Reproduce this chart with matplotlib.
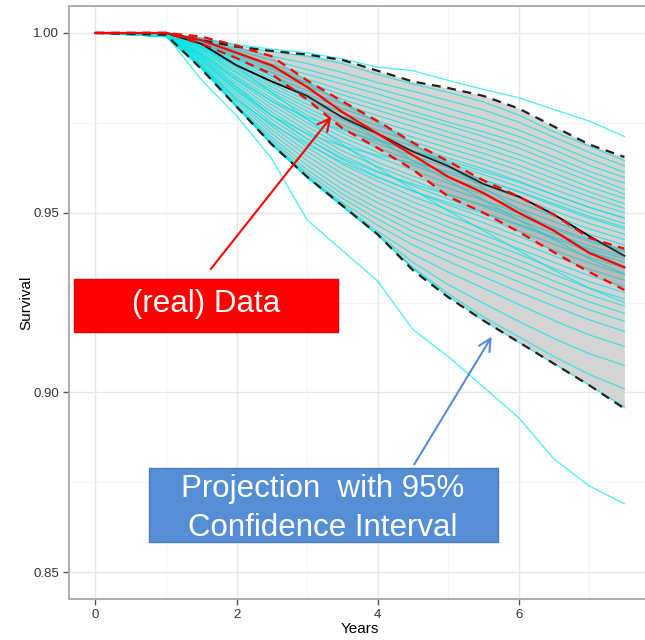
import matplotlib
matplotlib.use("Agg")
import matplotlib.pyplot as plt
from matplotlib.patches import Rectangle

plt.rcParams['font.family'] = ['Liberation Sans', 'DejaVu Sans']

# -------------------------------
# DATA
# -------------------------------
years = [0, 1.0, 1.5, 2.0, 2.5, 3.0, 3.5, 4.0, 4.5, 5.0, 5.5, 6.0, 6.5, 7.0, 7.5]

real_data = [1, 1.0, .9970, .9910, .9865, .9825, .9765, .9720, .9670, .9630, .9580, .9545, .9495, .9435, .9380]
model_mean = [1, 1.0, .9980, .9945, .9910, .9850, .9780, .9720, .9660, .9600, .9555, .9500, .9450, .9388, .9348]
model_upper = [1, 1.0, .9990, .9965, .9935, .9868, .9810, .9755, .9695, .9643, .9590, .9545, .9495, .9430, .9400]
model_lower = [1, 1.0, .9970, .9930, .9885, .9815, .9735, .9680, .9620, .9545, .9500, .9447, .9390, .9335, .9285]

band_upper = [1, 1.0, .9980, .9962, .9950, .9940, .9925, .9895, .9865, .9847, .9825, .9790, .9740, .9690, .9655]
band_lower = [1, .9995, .9900, .9795, .9690, .9600, .9520, .9440, .9340, .9265, .9200, .9140, .9080, .9020, .8955]

sim_curves = [
    [1, 1.0, .9985, .9965, .9948, .9935, .9915, .9885, .9858, .9835, .9808, .9772, .9725, .9685, .9645],
    [1, 1.0, .9982, .9958, .9935, .9915, .9890, .9862, .9838, .9812, .9786, .9752, .9710, .9668, .9630],
    [1, 1.0, .9980, .9952, .9925, .9898, .9872, .9845, .9818, .9790, .9762, .9730, .9690, .9650, .9612],
    [1, 1.0, .9978, .9945, .9912, .9885, .9858, .9830, .9800, .9770, .9745, .9712, .9675, .9632, .9598],
    [1, .9998, .9975, .9940, .9905, .9872, .9840, .9812, .9782, .9752, .9725, .9695, .9655, .9615, .9582],
    [1, .9998, .9972, .9935, .9898, .9862, .9828, .9798, .9770, .9742, .9712, .9680, .9640, .9602, .9565],
    [1, .9998, .9970, .9930, .9890, .9852, .9815, .9785, .9755, .9725, .9695, .9662, .9625, .9588, .9552],
    [1, .9998, .9968, .9925, .9880, .9840, .9802, .9770, .9740, .9710, .9680, .9648, .9610, .9572, .9540],
    [1, .9997, .9965, .9920, .9872, .9830, .9790, .9755, .9725, .9695, .9665, .9632, .9595, .9558, .9525],
    [1, .9997, .9962, .9915, .9865, .9820, .9778, .9742, .9710, .9680, .9650, .9618, .9580, .9545, .9512],
    [1, .9997, .9960, .9910, .9858, .9812, .9768, .9730, .9698, .9665, .9635, .9602, .9565, .9530, .9500],
    [1, .9996, .9958, .9905, .9850, .9802, .9758, .9718, .9685, .9652, .9622, .9588, .9550, .9515, .9485],
    [1, .9996, .9955, .9898, .9842, .9792, .9745, .9705, .9670, .9638, .9606, .9572, .9535, .9500, .9470],
    [1, .9996, .9952, .9892, .9835, .9782, .9735, .9692, .9658, .9625, .9592, .9558, .9520, .9485, .9455],
    [1, .9995, .9950, .9888, .9828, .9772, .9722, .9680, .9645, .9610, .9578, .9542, .9505, .9470, .9440],
    [1, .9995, .9946, .9880, .9818, .9760, .9710, .9668, .9632, .9598, .9565, .9528, .9490, .9455, .9425],
    [1, .9995, .9943, .9875, .9810, .9750, .9698, .9655, .9618, .9582, .9550, .9512, .9475, .9440, .9410],
    [1, .9994, .9940, .9868, .9800, .9740, .9685, .9640, .9602, .9568, .9535, .9498, .9460, .9425, .9395],
    [1, .9994, .9936, .9860, .9790, .9728, .9672, .9628, .9590, .9552, .9518, .9480, .9442, .9408, .9378],
    [1, .9994, .9932, .9852, .9780, .9718, .9660, .9615, .9575, .9538, .9502, .9465, .9428, .9392, .9362],
    [1, .9993, .9928, .9845, .9770, .9706, .9648, .9600, .9560, .9522, .9487, .9450, .9412, .9376, .9345],
    [1, .9993, .9925, .9838, .9760, .9695, .9635, .9588, .9545, .9508, .9472, .9435, .9396, .9360, .9328],
    [1, .9993, .9920, .9830, .9750, .9682, .9622, .9572, .9530, .9492, .9455, .9418, .9380, .9343, .9312],
    [1, .9992, .9916, .9822, .9740, .9670, .9608, .9558, .9515, .9475, .9438, .9400, .9362, .9325, .9295],
    [1, .9992, .9912, .9815, .9730, .9658, .9595, .9542, .9500, .9460, .9422, .9385, .9345, .9308, .9278],
    [1, .9992, .9910, .9808, .9720, .9645, .9580, .9528, .9482, .9442, .9405, .9368, .9328, .9290, .9260],
    [1, .9991, .9908, .9800, .9710, .9632, .9565, .9512, .9465, .9425, .9388, .9350, .9310, .9272, .9240],
    [1, .9991, .9906, .9798, .9702, .9620, .9552, .9498, .9448, .9408, .9370, .9330, .9290, .9252, .9220],
    [1, .9990, .9905, .9796, .9695, .9610, .9540, .9482, .9430, .9388, .9348, .9308, .9268, .9230, .9198],
    [1, .9990, .9905, .9795, .9692, .9603, .9528, .9465, .9410, .9365, .9322, .9280, .9240, .9202, .9170],
    [1, .9990, .9904, .9795, .9690, .9600, .9522, .9448, .9385, .9335, .9290, .9245, .9200, .9160, .9128],
    [1, .9990, .9903, .9795, .9690, .9598, .9518, .9440, .9362, .9300, .9248, .9198, .9150, .9108, .9075],
    [1, .9990, .9903, .9795, .9690, .9598, .9518, .9438, .9348, .9275, .9210, .9155, .9100, .9050, .9010],
    [1, .9990, .9903, .9795, .9690, .9598, .9518, .9438, .9345, .9268, .9200, .9140, .9080, .9020, .8960],
    [1, .9994, .9935, .9850, .9770, .9705, .9652, .9612, .9580, .9550, .9522, .9490, .9455, .9420, .9392],
    [1, .9998, .9975, .9945, .9905, .9860, .9805, .9750, .9690, .9630, .9570, .9510, .9450, .9395, .9350],
    [1, .9993, .9925, .9840, .9770, .9720, .9685, .9660, .9638, .9615, .9590, .9560, .9525, .9490, .9460],
    [1, .9996, .9960, .9905, .9835, .9760, .9690, .9625, .9565, .9505, .9450, .9395, .9340, .9290, .9250],
    [1, .9991, .9910, .9815, .9745, .9690, .9640, .9598, .9560, .9528, .9498, .9468, .9432, .9400, .9372],
    [1, .9997, .9968, .9928, .9880, .9825, .9765, .9705, .9645, .9590, .9535, .9480, .9425, .9372, .9330],
    [1, .9995, .9940, .9870, .9810, .9765, .9730, .9700, .9672, .9645, .9615, .9585, .9550, .9515, .9485],
]

outlier_high = [1, 1.0, .9985, .9968, .9955, .9945, .9928, .9905, .9895, .9868, .9843, .9820, .9787, .9755, .9712]
outlier_low = [1, .9995, .9870, .9770, .9650, .9480, .9395, .9310, .9175, .9100, .9015, .8930, .8815, .8740, .8690]

y_ticks = [0.85, 0.90, 0.95, 1.00]
y_labels = ["0.85", "0.90", "0.95", "1.00"]
x_ticks = [0, 2, 4, 6]

# -------------------------------
# FIGURE
# -------------------------------
fig = plt.figure(figsize=(6.45, 6.4), dpi=100)
ax = fig.add_axes([0.107, 0.064, 0.902, 0.9266])

ax.set_xlim(-0.375, 7.875)
ax.set_ylim(0.8425, 1.0075)

ax.fill_between(years, band_lower, band_upper, color="#d4d4d4", lw=0, zorder=2)

for c in sim_curves + [outlier_high, outlier_low]:
    ax.plot(years, c, color="#00e5e5", lw=0.9, alpha=0.7, zorder=3)

ax.plot(years, real_data, color="black", lw=1.3, zorder=4)
ax.fill_between(years, model_lower, model_upper, color="#808080", alpha=0.3, lw=0, zorder=5)

ax.plot(years, band_upper, color="#222222", lw=1.6, ls=(0, (4, 3)), zorder=6)
ax.plot(years, band_lower, color="#222222", lw=1.6, ls=(0, (4, 3)), zorder=6)

ax.plot(years, model_mean, color="red", lw=1.6, zorder=7)
ax.plot(years, model_upper, color="red", lw=1.6, ls=(0, (4, 3)), zorder=7)
ax.plot(years, model_lower, color="red", lw=1.6, ls=(0, (4, 3)), zorder=7)

# -------------------------------
# AXES STYLE (ggplot theme_bw look)
# -------------------------------
ax.set_xticks(x_ticks)
ax.set_xticks([1, 3, 5, 7], minor=True)
ax.set_yticks(y_ticks)
ax.set_yticklabels(y_labels)
ax.set_yticks([0.875, 0.925, 0.975], minor=True)
ax.grid(True, which="major", color="#e6e6e6", lw=1.0, zorder=0)
ax.grid(True, which="minor", color="#f3f3f3", lw=0.6, zorder=0)
ax.set_axisbelow(True)
for s in ax.spines.values():
    s.set_color("#a6a6a6")
    s.set_linewidth(1.3)
ax.tick_params(which="major", length=4, width=1, color="#555555",
               labelsize=9.5, labelcolor="#333333", pad=3)
ax.tick_params(which="minor", length=0)
ax.set_xlabel("Years", fontsize=11, labelpad=1)
ax.set_ylabel("Survival", fontsize=11, labelpad=0)

# -------------------------------
# ANNOTATIONS
# -------------------------------
ax.add_patch(Rectangle((-0.305, 0.91675), 3.745, 0.01472, facecolor="red",
                       edgecolor="#e00000", lw=1, zorder=10))
ax.text(1.57, 0.9245, "(real) Data", color="white", fontsize=22.5,
        ha="center", va="center", zorder=11)
ax.annotate("", xy=(3.37, 0.9773), xytext=(1.61, 0.9337),
            arrowprops=dict(arrowstyle="->", color="red", lw=1.5, mutation_scale=22),
            zorder=11)

ax.add_patch(Rectangle((0.759, 0.85842), 4.95, 0.02055, facecolor="#558ed5",
                       edgecolor="#4a7ab8", lw=1, zorder=10))
ax.text(3.22, 0.8677, "Projection  with 95%\nConfidence Interval", color="white",
        fontsize=22.5, ha="center", va="center", linespacing=1.38, zorder=11)
ax.annotate("", xy=(5.64, 0.9162), xytext=(4.5, 0.8793),
            arrowprops=dict(arrowstyle="->", color="#558ed5", lw=1.5, mutation_scale=22),
            zorder=11)

fig.savefig("out.png", dpi=100)
